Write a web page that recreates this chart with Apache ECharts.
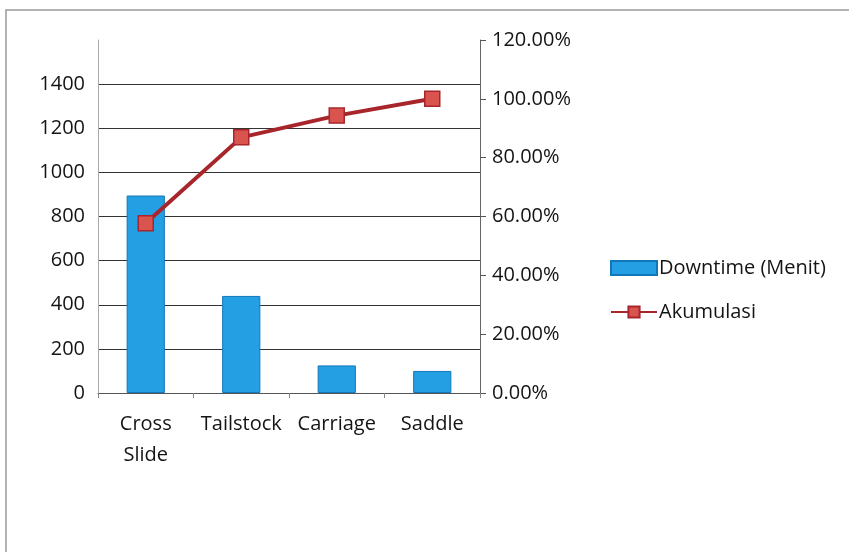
<!DOCTYPE html>
<html>
<head>
<meta charset="utf-8">
<script src="https://cdn.jsdelivr.net/npm/echarts@6/dist/echarts.min.js"></script>
<style>
  html, body { margin: 0; padding: 0; background: #ffffff; }
  #chart { width: 849px; height: 552px; }
</style>
</head>
<body>
<div id="chart"></div>
<script>
// Pareto chart: machine-part downtime with cumulative share
const categories = ['Cross\nSlide', 'Tailstock', 'Carriage', 'Saddle'];
const downtime = [895, 440, 125, 100];          // minutes
const cumulative = [57.7, 86.9, 94.3, 100.0];   // percent
const leftTicks = { min: 0, max: 1600, interval: 200 };
const rightTicks = { min: 0, max: 120, interval: 20 };

const font = '"Open Sans", "Liberation Sans", sans-serif';
const textColor = '#141414';
const chart = echarts.init(document.getElementById('chart'));

chart.setOption({
  backgroundColor: '#ffffff',
  animation: false,
  textStyle: { fontFamily: font },
  grid: { left: 98, right: 369, top: 40, bottom: 159 },
  legend: {
    orient: 'vertical',
    left: 605,
    top: 253,
    itemGap: 24,
    itemWidth: 46,
    itemHeight: 14,
    textStyle: { fontFamily: font, fontSize: 20, color: textColor, padding: [0, 0, 0, -3] },
    data: [
      { name: 'Downtime (Menit)', icon: 'rect' },
      { name: 'Akumulasi' }
    ]
  },
  xAxis: {
    type: 'category',
    data: categories,
    axisLine: { lineStyle: { color: '#555', width: 1 } },
    axisTick: { show: true, length: 5, lineStyle: { color: '#888' } },
    axisLabel: {
      fontFamily: font, fontSize: 20, color: textColor,
      margin: 16, lineHeight: 31, interval: 0
    }
  },
  yAxis: [
    {
      type: 'value',
      min: leftTicks.min, max: leftTicks.max, interval: leftTicks.interval,
      axisLine: { show: true, lineStyle: { color: '#aaa', width: 1 } },
      axisTick: { show: false },
      axisLabel: {
        fontFamily: font, fontSize: 20, color: textColor, margin: 13,
        showMaxLabel: false,
        formatter: v => String(v)
      },
      splitLine: {
        show: true, showMaxLine: false,
        lineStyle: { color: '#333', width: 1.2 }
      }
    },
    {
      type: 'value',
      min: rightTicks.min, max: rightTicks.max, interval: rightTicks.interval,
      position: 'right',
      axisLine: { show: true, lineStyle: { color: '#666', width: 1 } },
      axisTick: { show: true, inside: false, length: 6, lineStyle: { color: '#555' } },
      axisLabel: {
        fontFamily: font, fontSize: 20, color: textColor, margin: 12,
        formatter: v => v.toFixed(2) + '%'
      },
      splitLine: { show: false }
    }
  ],
  series: [
    {
      name: 'Downtime (Menit)',
      type: 'bar',
      yAxisIndex: 0,
      data: downtime,
      barWidth: '40%',
      itemStyle: { color: '#259fe3', borderColor: '#1277b8', borderWidth: 1 }
    },
    {
      name: 'Akumulasi',
      type: 'line',
      yAxisIndex: 1,
      data: cumulative,
      symbol: 'rect',
      symbolSize: 15,
      lineStyle: { color: '#a8262b', width: 4 },
      itemStyle: { color: '#d9534f', borderColor: '#a8262b', borderWidth: 1.5 }
    }
  ],
  graphic: [
    {
      type: 'rect',
      shape: { x: 6, y: 10, width: 850, height: 560 },
      style: { fill: 'none', stroke: '#9a9a9a', lineWidth: 1.5 },
      silent: true
    }
  ]
});
</script>
</body>
</html>
